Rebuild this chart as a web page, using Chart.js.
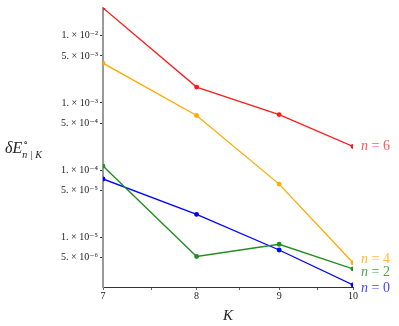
<!DOCTYPE html>
<html>
<head>
<meta charset="utf-8">
<script src="https://cdn.jsdelivr.net/npm/chart.js@4/dist/chart.umd.min.js"></script>
<style>
  body { margin: 0; background: #fff; }
  #wrap { width: 399px; height: 326px; }
</style>
</head>
<body>
<div id="wrap"><canvas id="chart" width="399" height="326"></canvas></div>
<script>
// values
const kValues = [7, 8, 9, 10];
const n6 = [0.0258, 1.72e-3, 6.7e-4, 2.25e-4];
const n4 = [3.9e-3, 6.5e-4, 6.2e-5, 4.2e-6];
const n2 = [1.15e-4, 5.2e-6, 7.9e-6, 3.4e-6];
const n0 = [7.4e-5, 2.2e-5, 6.5e-6, 1.97e-6];
const yTicks = [5e-6, 1e-5, 5e-5, 1e-4, 5e-4, 1e-3, 5e-3, 1e-2];
const xTicks = [7, 7.5, 8, 8.5, 9, 9.5, 10];
const seriesNames = ['n = 6', 'n = 4', 'n = 2', 'n = 0'];

const SUP = { '-': '\u207B', '0': '\u2070', '1': '\u00B9', '2': '\u00B2', '3': '\u00B3',
  '4': '\u2074', '5': '\u2075', '6': '\u2076', '7': '\u2077', '8': '\u2078', '9': '\u2079' };
function sciLabel(v) {
  const e = Math.floor(Math.log10(v) + 1e-9);
  const m = Math.round(v / Math.pow(10, e));
  const sup = String(e).split('').map(c => SUP[c]).join('');
  return m + '. \u00D7 10' + sup;
}

function pts(arr) { return arr.map((y, i) => ({ x: kValues[i], y: y })); }

const colors = ['#ff1a1a', '#ffaa00', '#228b22', '#0000ff'];
const labelColors = ['#f55', '#fb3', '#4a4', '#44f'];
const labelShift = [0, -3, 3, 3];

const serif = '"Liberation Serif", "DejaVu Serif", serif';

const labelPlugin = {
  id: 'labels',
  afterDatasetsDraw(chart) {
    const ctx = chart.ctx;
    const xs = chart.scales.x, ys = chart.scales.y;
    ctx.save();
    ctx.textBaseline = 'middle';
    chart.data.datasets.forEach((ds, i) => {
      const last = ds.data[ds.data.length - 1];
      const px = xs.getPixelForValue(last.x) + 8;
      const py = ys.getPixelForValue(last.y) + labelShift[i];
      ctx.fillStyle = labelColors[i];
      ctx.font = 'italic 14px ' + serif;
      ctx.fillText('n', px, py);
      const w = ctx.measureText('n').width;
      ctx.font = '14px ' + serif;
      ctx.fillText(' = ' + seriesNames[i].split('= ')[1], px + w, py);
    });
    // axis titles
    ctx.fillStyle = '#222';
    ctx.font = 'italic 15px ' + serif;
    ctx.textAlign = 'center';
    ctx.fillText('K', (xs.left + xs.right) / 2, 316);
    ctx.textAlign = 'left';
    let x = 5, y = 149;
    ctx.font = 'italic 16px ' + serif;
    ctx.fillText('\u03B4E', x, y);
    x += ctx.measureText('\u03B4E').width;
    ctx.font = '10px ' + serif;
    ctx.fillText('\u2218', x + 1, y - 6);
    ctx.font = 'italic 10px ' + serif;
    ctx.fillText('n', x, y + 6);
    x += ctx.measureText('n').width + 3;
    ctx.font = '10px ' + serif;
    ctx.fillText('|', x, y + 6);
    x += ctx.measureText('|').width + 3;
    ctx.font = 'italic 10px ' + serif;
    ctx.fillText('K', x, y + 6);
    ctx.restore();
  }
};

new Chart(document.getElementById('chart'), {
  type: 'line',
  data: {
    datasets: [n6, n4, n2, n0].map((d, i) => ({
      label: seriesNames[i],
      data: pts(d),
      borderColor: colors[i],
      backgroundColor: colors[i],
      borderWidth: 1.3,
      pointRadius: 1.8,
      pointHoverRadius: 1.8,
      tension: 0
    }))
  },
  options: {
    responsive: false,
    animation: false,
    events: [],
    layout: { padding: { top: 5, right: 46, left: 0, bottom: 0 } },
    plugins: { legend: { display: false }, tooltip: { enabled: false } },
    scales: {
      x: {
        type: 'logarithmic',
        min: 7,
        max: 10,
        afterBuildTicks: s => { s.ticks = xTicks.map(v => ({ value: v })); },
        afterFit: s => { s.height = 39; },
        ticks: {
          autoSkip: false,
          maxRotation: 0,
          padding: 0,
          color: '#222',
          font: { family: serif, size: 10 },
          callback: v => (Number.isInteger(v) ? String(v) : '')
        },
        grid: { display: true, drawOnChartArea: false, drawTicks: true, tickLength: 3, color: '#666' },
        border: { display: true, color: '#333', width: 1 }
      },
      y: {
        type: 'logarithmic',
        min: 1.83e-6,
        max: 0.0258,
        afterBuildTicks: s => { s.ticks = yTicks.map(v => ({ value: v })); },
        afterFit: s => { s.width = 103; },
        ticks: {
          autoSkip: false,
          padding: 2,
          color: '#222',
          font: { family: serif, size: 10 },
          callback: v => sciLabel(v)
        },
        grid: { display: true, drawOnChartArea: false, drawTicks: true, tickLength: 3, color: '#333' },
        border: { display: true, color: '#999', width: 2 }
      }
    }
  },
  plugins: [labelPlugin]
});
</script>
</body>
</html>
